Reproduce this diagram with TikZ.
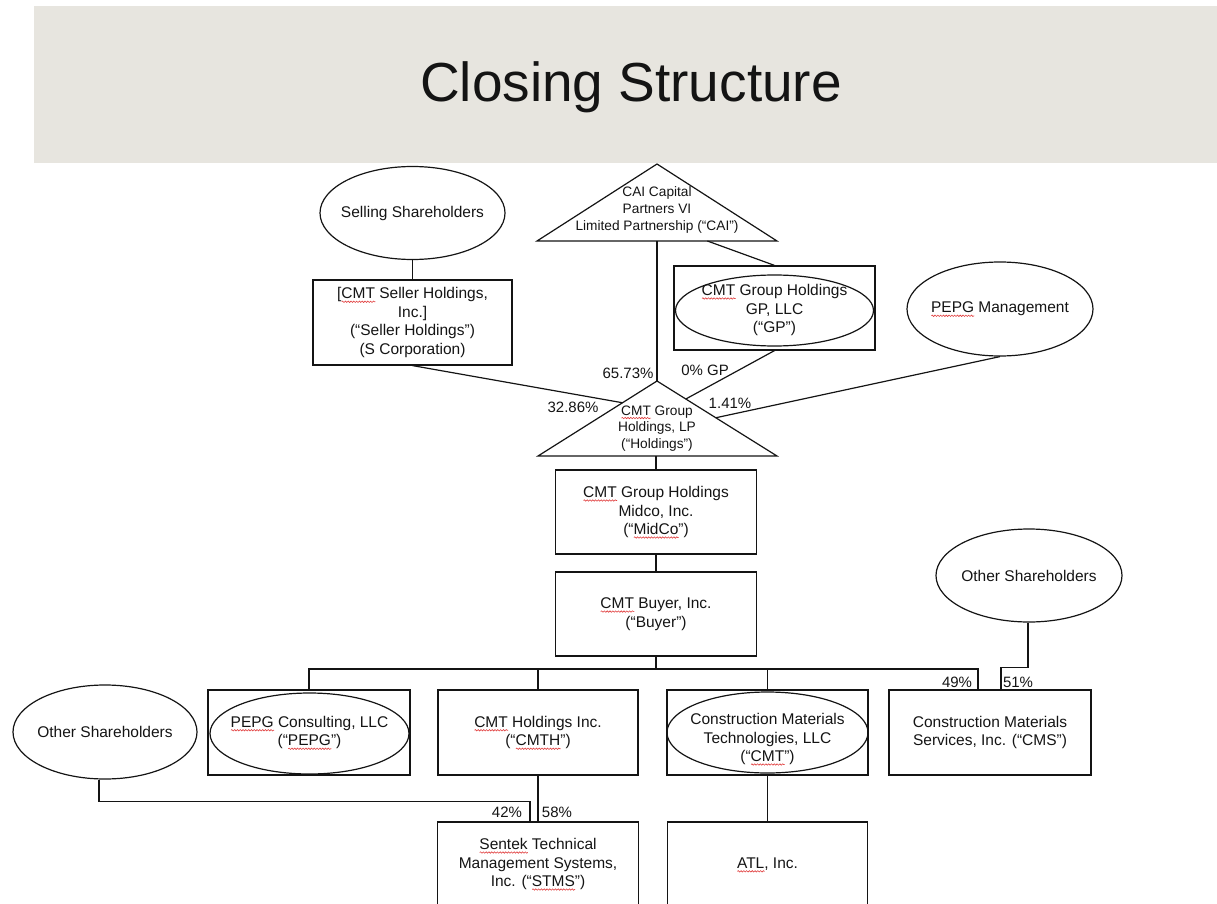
\documentclass[tikz,border=0pt]{standalone}
\usepackage{fontspec}
\setmainfont{Liberation Sans}
\usetikzlibrary{shapes.geometric,calc,decorations.pathmorphing}
\definecolor{band}{HTML}{E7E5DF}
\definecolor{ink}{HTML}{141414}
\definecolor{squig}{HTML}{E03C3C}
\newlength\splw
\newcommand\spl[1]{\setbox0\hbox{#1}\setlength\splw{\wd0}\rlap{\smash{\tikz[x=1pt,y=1pt,baseline=0pt]\draw[squig,line width=0.6pt,decorate,decoration={snake,amplitude=0.7pt,segment length=2.8pt}] (0,-3) -- (\splw,-3);}}\box0\relax}
\begin{document}
\begin{tikzpicture}[x=1pt,y=-1pt,
  ln/.style={draw=ink,line width=1.2pt},
  txt/.style={font=\fontsize{15.5}{18.5}\selectfont,align=center,text=ink,inner sep=0pt},
  ttxt/.style={font=\fontsize{13.7}{16.8}\selectfont,align=center,text=ink,inner sep=0pt},
  pct/.style={font=\fontsize{15}{18}\selectfont,text=ink,inner sep=0pt},
  boxn/.style={txt,ln,rectangle,minimum width=201pt,minimum height=84pt},
  ell/.style={ln,ellipse,inner sep=0pt,minimum width=186pt,minimum height=93pt},
  inell/.style={ln,ellipse,inner sep=0pt}
]
\useasboundingbox (0,0) rectangle (1217,904);
\clip (0,0) rectangle (1217,904);
\fill[band] (34,6) rectangle (1217,163);
\node[font=\fontsize{55}{60}\selectfont,text=ink,anchor=base,inner sep=0pt] (title) at (631,102) {Closing Structure};

% top level
\node[ell,minimum width=185pt] (sell) at (412.5,213) {};
\node[txt] (selltxt) at (412.5,213) {Selling Shareholders};
\node[boxn,minimum width=199pt,minimum height=85pt] (seller) at (412.5,322.5) {[\spl{CMT} Seller Holdings,\\Inc.]\\(“Seller Holdings”)\\(S Corporation)};

\coordinate (cA) at (657,164);
\coordinate (cL) at (537,241);
\coordinate (cR) at (777,241);
\draw[ln] (cL) -- (cA) -- (cR) -- cycle;
\node[ttxt] (cai) at (657,210) {CAI Capital\\Partners VI\\Limited Partnership (“CAI”)};

\node[boxn] (gpbox) at (774.5,308) {};
\node[inell,minimum width=198pt,minimum height=71pt] (gpell) at (774.5,310.5) {};
\node[txt] (gp) at (774.5,310) {\spl{CMT} Group Holdings\\GP, LLC\\(“GP”)};

\node[ell,minimum height=94pt] (pepgm) at (1000,309) {};
\node[txt] (pepgmtxt) at (1000,309) {\spl{PEPG} Management};

\coordinate (hA) at (657,381);
\coordinate (hL) at (538,456);
\coordinate (hR) at (777,456);
\draw[ln] (hL) -- (hA) -- (hR) -- cycle;
\node[ttxt] (hold) at (657,428.5) {\spl{CMT} Group\\Holdings, LP\\(“Holdings”)};

\node[boxn] (midco) at (656,512) {\spl{CMT} Group Holdings\\Midco, Inc.\\(“\spl{MidCo}”)};
\node[boxn] (buyer) at (656,614) {\spl{CMT} Buyer, Inc.\\(“Buyer”)};

% bottom row
\node[boxn,minimum width=202pt,minimum height=85pt] (pepgbox) at (309,732.5) {};
\node[inell,minimum width=199pt,minimum height=81pt] (pepgell) at (309.5,733.5) {};
\node[txt] (pepg) at (309.5,732.5) {\spl{PEPG} Consulting, LLC\\(“\spl{PEPG}”)};
\node[boxn,minimum width=200pt,minimum height=85pt] (cmth) at (538,732.5) {\spl{CMT} Holdings Inc.\\(“\spl{CMTH}”)};
\node[boxn,minimum height=85pt] (cmtbox) at (767.5,732.5) {};
\node[inell,minimum width=201pt,minimum height=81pt] (cmtell) at (767.5,732.5) {};
\node[txt] (cmt) at (767.5,739) {Construction Materials\\Technologies, LLC\\(“\spl{CMT}”)};
\node[boxn,minimum width=202pt,minimum height=85pt] (cms) at (990,732.5) {Construction Materials\\Services, Inc. (“CMS”)};
\node[ell] (osr) at (1029,575.5) {};
\node[txt] (osrtxt) at (1029,575.5) {Other Shareholders};
\node[ell,minimum width=184pt,minimum height=94pt] (osl) at (105,732) {};
\node[txt] (osltxt) at (105,732) {Other Shareholders};
\node[boxn] (stms) at (538,864) {\spl{Sentek} Technical\\Management Systems,\\Inc. (“\spl{STMS}”)};
\node[boxn,minimum width=200pt] (atl) at (767.5,864) {\spl{ATL}, Inc.};

% connectors
\draw[ln] (sell.south) -- (seller.north);
\draw[ln] ($(cL)!0.5!(cR)$) -- (hA);
\draw[ln] ($(cL)!0.71!(cR)$) -- (gpbox.north);
\draw[ln] (seller.south) -- ($(hA)!0.29!(hL)$);
\draw[ln] (gpbox.south) -- ($(hA)!0.24!(hR)$);
\draw[ln] (pepgm.south) -- ($(hA)!0.49!(hR)$);
\draw[ln] (midco.north) -- (midco.north |- hL);
\draw[ln] (midco.south) -- (buyer.north);
\coordinate (bus) at (656,669);
\draw[ln] (buyer.south) -- (bus);
\draw[ln] (pepgbox.north) |- (bus) -| ([xshift=-12pt]cms.north);
\draw[ln] (cmth.north) -- (cmth.north |- bus);
\draw[ln] (cmtbox.north) -- (cmtbox.north |- bus);
\draw[ln] ([xshift=-1pt]osr.south) -- ++(0,45) -| ([xshift=11pt]cms.north);
\draw[ln] (cmth.south) -- (stms.north);
\draw[ln] ([xshift=-6pt]osl.south) -- ++(0,22) -| ([xshift=-8pt]stms.north);
\draw[ln] (cmtbox.south) -- (atl.north);

% percentages
\node[pct] (p1) at (628,373) {65.73\%};
\node[pct] (p2) at (705,370) {0\% GP};
\node[pct] (p3) at (573,407) {32.86\%};
\node[pct] (p4) at (730,403) {1.41\%};
\node[pct] (p5) at (507,812) {42\%};
\node[pct] (p6) at (557,812) {58\%};
\node[pct] (p7) at (957,682) {49\%};
\node[pct] (p8) at (1018,682) {51\%};
\end{tikzpicture}
\end{document}
